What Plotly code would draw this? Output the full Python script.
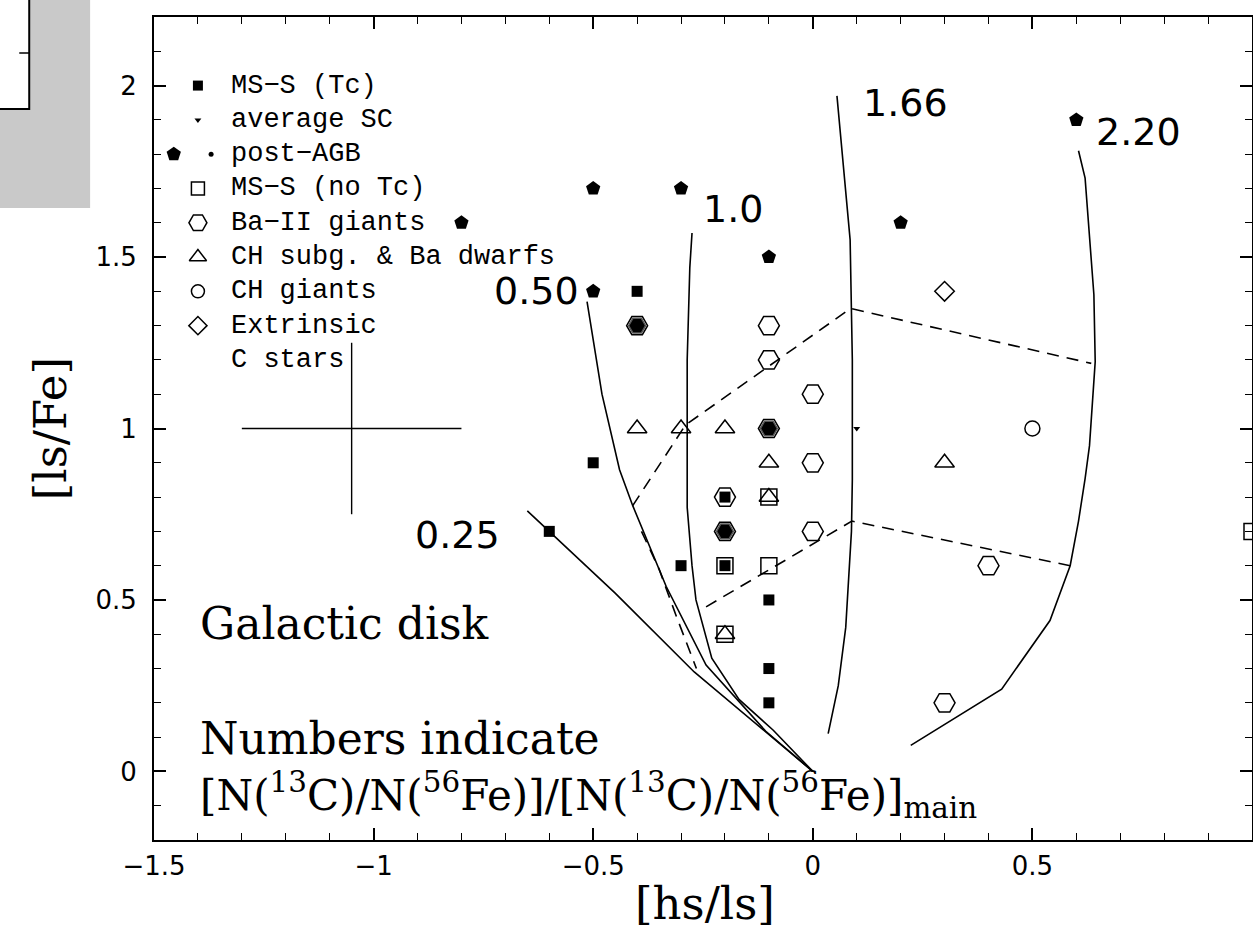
import plotly.graph_objects as go

# ---------------- data ----------------
# MS-S stars with Tc (filled squares)
ms_tc_x = [-0.4, -0.5, -0.6, -0.3, -0.2, -0.1, -0.1, -0.1, -0.2]
ms_tc_y = [1.4, 0.9, 0.7, 0.6, 0.6, 0.5, 0.3, 0.2, 0.8]
# MS-S stars without Tc (open squares)
ms_notc_x = [-0.1, -0.2, -0.1, -0.2, 1.0]
ms_notc_y = [0.6, 0.6, 0.8, 0.4, 0.7]
# average SC star
avg_sc_x = [0.1]
avg_sc_y = [1.0]
# post-AGB stars (filled pentagons)
post_agb_x = [-0.5, -0.3, -0.8, -0.1, -0.5, 0.2, 0.6]
post_agb_y = [1.7, 1.7, 1.6, 1.5, 1.4, 1.6, 1.9]
# Ba-II giants (open hexagons)
ba2_x = [-0.1, -0.1, 0.0, 0.0, 0.0, 0.4, 0.3, -0.4, -0.1, -0.2, -0.2]
ba2_y = [1.3, 1.2, 1.1, 0.9, 0.7, 0.6, 0.2, 1.3, 1.0, 0.8, 0.7]
# Ba-II giants overlapping a filled symbol
ba2_filled_x = [-0.4, -0.1, -0.2]
ba2_filled_y = [1.3, 1.0, 0.7]
# CH subgiants & Ba dwarfs (open triangles)
ch_subg_x = [-0.4, -0.3, -0.2, -0.1, -0.1, 0.3, -0.2]
ch_subg_y = [1.0, 1.0, 1.0, 0.9, 0.8, 0.9, 0.4]
# CH giants (open circles)
ch_giants_x = [0.5]
ch_giants_y = [1.0]
# Extrinsic C stars (open diamonds)
extr_x = [0.3]
extr_y = [1.4]

# model curves, labelled by [N(13C)/N(56Fe)] / main
curve_025_x = [-0.65, -0.6, -0.45, -0.27, -0.12, 0.0]
curve_025_y = [0.76, 0.70, 0.52, 0.29, 0.13, 0.0]
curve_050_x = [-0.514, -0.48, -0.44, -0.41, -0.334, -0.243, -0.107, 0.0]
curve_050_y = [1.37, 1.10, 0.88, 0.775, 0.54, 0.31, 0.117, 0.0]
curve_100_x = [-0.275, -0.28, -0.286, -0.286, -0.286, -0.275, -0.266, -0.23, -0.168, -0.09, 0.0]
curve_100_y = [1.57, 1.47, 1.2, 0.88, 0.77, 0.6, 0.50, 0.33, 0.21, 0.12, 0.0]
curve_166_x = [0.055, 0.07, 0.085, 0.09, 0.09, 0.088, 0.075, 0.058, 0.035]
curve_166_y = [1.97, 1.75, 1.55, 1.2, 0.85, 0.70, 0.42, 0.25, 0.11]
curve_220_x = [0.605, 0.62, 0.64, 0.643, 0.63, 0.62, 0.605, 0.586, 0.54, 0.43, 0.223]
curve_220_y = [1.81, 1.73, 1.39, 1.195, 0.95, 0.854, 0.73, 0.60, 0.44, 0.24, 0.076]
curve_labels = ["0.25", "0.50", "1.0", "1.66", "2.20"]

# dashed iso-lines
dash_upper_x = [-0.41, -0.29, 0.086, 0.634]
dash_upper_y = [0.775, 1.01, 1.35, 1.19]
dash_lower_x = [-0.243, 0.089, 0.586]
dash_lower_y = [0.48, 0.73, 0.60]
dash_side_x = [-0.39, -0.35, -0.31, -0.265]
dash_side_y = [0.70, 0.59, 0.45, 0.30]

# typical error bar
err_x = [-1.05]
err_y = [1.0]
err_dx = [0.25]
err_dy = [0.25]

legend_labels = ["MS\u2212S (Tc)", "average SC", "post\u2212AGB", "MS\u2212S (no Tc)",
                 "Ba\u2212II giants", "CH subg. & Ba dwarfs", "CH giants", "Extrinsic", "C stars"]

x_tickvals = [-1.5, -1.0, -0.5, 0.0, 0.5]
x_ticktext = ["\u22121.5", "\u22121", "\u22120.5", "0", "0.5"]
y_tickvals = [0, 0.5, 1.0, 1.5, 2.0]
y_ticktext = ["0", "0.5", "1", "1.5", "2"]

# ---------------- style ----------------
TICK_FONT = dict(family="DejaVu Sans", size=26, color="black")
LABEL_FONT = dict(family="DejaVu Sans", size=38, color="black")
LEG_FONT = dict(family="Liberation Mono", size=27, color="black")
BIG_FONT = dict(family="DejaVu Serif", size=44, color="black")
BIG_FONT2 = dict(family="DejaVu Serif", size=42, color="black")
TITLE_FONT = dict(family="DejaVu Serif", size=45, color="black")
LW = 1.6

FIG_W, FIG_H = 1254, 932
L, T, R, B = 154, 17, 0, 92

fig = go.Figure()

def line(x, y, dash="solid"):
    fig.add_trace(go.Scatter(x=x, y=y, mode="lines", showlegend=False, hoverinfo="skip",
                             line=dict(color="black", width=LW, dash=dash)))

for cx, cy in [(curve_025_x, curve_025_y), (curve_050_x, curve_050_y), (curve_100_x, curve_100_y),
               (curve_166_x, curve_166_y), (curve_220_x, curve_220_y)]:
    line(cx, cy)
for cx, cy in [(dash_upper_x, dash_upper_y), (dash_lower_x, dash_lower_y), (dash_side_x, dash_side_y)]:
    line(cx, cy, dash="12px,8px")

# error cross
fig.add_trace(go.Scatter(x=err_x, y=err_y, mode="markers", showlegend=False, hoverinfo="skip",
                         marker=dict(size=1, color="rgba(0,0,0,0)"),
                         error_x=dict(type="data", array=err_dx, width=0, color="black", thickness=1.4),
                         error_y=dict(type="data", array=err_dy, width=0, color="black", thickness=1.4)))

def pts(x, y, symbol, size, fill="black", lw=1.5, lc="black", clip=True):
    fig.add_trace(go.Scatter(x=x, y=y, mode="markers", showlegend=False, hoverinfo="skip",
                             cliponaxis=clip,
                             marker=dict(symbol=symbol, size=size, color=fill,
                                         line=dict(color=lc, width=lw))))

pts(ba2_x, ba2_y, "hexagon2-open", 21, lw=1.5)
pts(ba2_filled_x, ba2_filled_y, "hexagon2", 17, fill="black", lw=1.5, lc="#555555")
pts(ms_notc_x, ms_notc_y, "square-open", 16, lw=1.5, clip=False)
pts(ch_subg_x, ch_subg_y, "triangle-up-open", 17, lw=1.5)
pts(ch_giants_x, ch_giants_y, "circle-open", 15, lw=1.5)
pts(extr_x, extr_y, "diamond-open", 15, lw=1.5)
pts(ms_tc_x, ms_tc_y, "square", 11, lw=0)
pts(post_agb_x, post_agb_y, "pentagon", 15, lw=0)
pts(avg_sc_x, avg_sc_y, "triangle-down", 6, lw=0)

# ---------------- legend (drawn inside the plot) ----------------
leg_x0 = -1.40
leg_tx = -1.33
leg_rows = [2.0 - 0.1 * i for i in range(len(legend_labels))]
leg_sym = [("square", 10, "black", 0), ("triangle-down", 6, "black", 0), ("circle", 5, "black", 0),
           ("square-open", 13, "black", 1.5), ("hexagon2-open", 18, "black", 1.5),
           ("triangle-up-open", 15, "black", 1.5), ("circle-open", 13, "black", 1.5),
           ("diamond-open", 14, "black", 1.5)]
for (sym, sz, col, lw), yy in zip(leg_sym, leg_rows):
    xx = leg_x0 + (0.03 if sym == "circle" else 0.0)
    pts([xx], [yy], sym, sz, fill=col, lw=lw)
pts([-1.455], [leg_rows[2]], "pentagon", 15, lw=0, clip=False)

annotations = []
for lab, yy in zip(legend_labels, leg_rows):
    annotations.append(dict(x=leg_tx, y=yy, xref="x", yref="y", text=lab, showarrow=False,
                            xanchor="left", yanchor="middle", font=LEG_FONT))

# curve labels
lab_pos = [(-0.707, 0.69, "right"), (-0.527, 1.40, "right"), (-0.255, 1.64, "left"),
           (0.11, 1.95, "left"), (0.64, 1.865, "left")]
for lab, (lx, ly, anc) in zip(curve_labels, lab_pos):
    annotations.append(dict(x=lx, y=ly, xref="x", yref="y", text=lab, showarrow=False,
                            xanchor=anc, yanchor="middle", font=LABEL_FONT))

PW = FIG_W - L - R
PH = FIG_H - T - B
def px(xp):
    return (xp - L) / PW
def py(yp):
    return (T + PH - yp) / PH

annotations += [
    dict(x=-1.40, y=0.43, xref="x", yref="y", text="Galactic disk", showarrow=False,
         xanchor="left", yanchor="middle", font=BIG_FONT),
    dict(x=-1.40, y=0.095, xref="x", yref="y", text="Numbers indicate", showarrow=False,
         xanchor="left", yanchor="middle", font=BIG_FONT),
    dict(x=-1.40, y=-0.068, xref="x", yref="y",
         text="[N(<sup>13</sup>C)/N(<sup>56</sup>Fe)]/[N(<sup>13</sup>C)/N(<sup>56</sup>Fe)]<sub>main</sub>",
         showarrow=False, xanchor="left", yanchor="middle", font=BIG_FONT2),
    dict(x=px(706), y=py(903), xref="paper", yref="paper", text="[hs/ls]", showarrow=False,
         xanchor="center", yanchor="middle", font=TITLE_FONT),
    dict(x=px(50), y=py(429), xref="paper", yref="paper", text="[ls/Fe]", showarrow=False,
         xanchor="center", yanchor="middle", textangle=-90, font=TITLE_FONT),
]

# fragment of a neighbouring panel in the top-left corner
shapes = [
    dict(type="rect", xref="paper", yref="paper", x0=px(-5), x1=px(90), y0=py(208), y1=py(-5),
         fillcolor="#c9c9c9", line=dict(width=0), layer="below"),
    dict(type="rect", xref="paper", yref="paper", x0=px(-5), x1=px(29), y0=py(109), y1=py(-5),
         fillcolor="white", line=dict(color="black", width=2), layer="below"),
    dict(type="line", xref="paper", yref="paper", x0=px(19), x1=px(29), y0=py(53), y1=py(53),
         line=dict(color="black", width=1.5)),
]

axis_common = dict(showline=True, linecolor="black", linewidth=2, mirror="ticks",
                   ticks="inside", ticklen=12, tickwidth=1.5, tickcolor="black",
                   showgrid=False, zeroline=False, tickfont=TICK_FONT)

fig.update_layout(
    width=FIG_W, height=FIG_H,
    margin=dict(l=L, r=R, t=T, b=B),
    paper_bgcolor="white", plot_bgcolor="white",
    showlegend=False,
    annotations=annotations,
    shapes=shapes,
    xaxis=dict(range=[-1.5, 1.0], tickmode="array", tickvals=x_tickvals, ticktext=x_ticktext,
               minor=dict(dtick=0.1, tick0=0, ticks="inside", ticklen=7, tickwidth=1.2,
                          tickcolor="black", showgrid=False),
               ticklabelstandoff=2, **axis_common),
    yaxis=dict(range=[-0.2, 2.2], tickmode="array", tickvals=y_tickvals, ticktext=y_ticktext,
               minor=dict(dtick=0.1, tick0=0, ticks="inside", ticklen=7, tickwidth=1.2,
                          tickcolor="black", showgrid=False),
               ticklabelstandoff=10, **axis_common),
)

fig.write_html("out.html", config={"displayModeBar": False},
               post_script="document.body.style.margin='0';document.body.style.overflow='hidden';")
